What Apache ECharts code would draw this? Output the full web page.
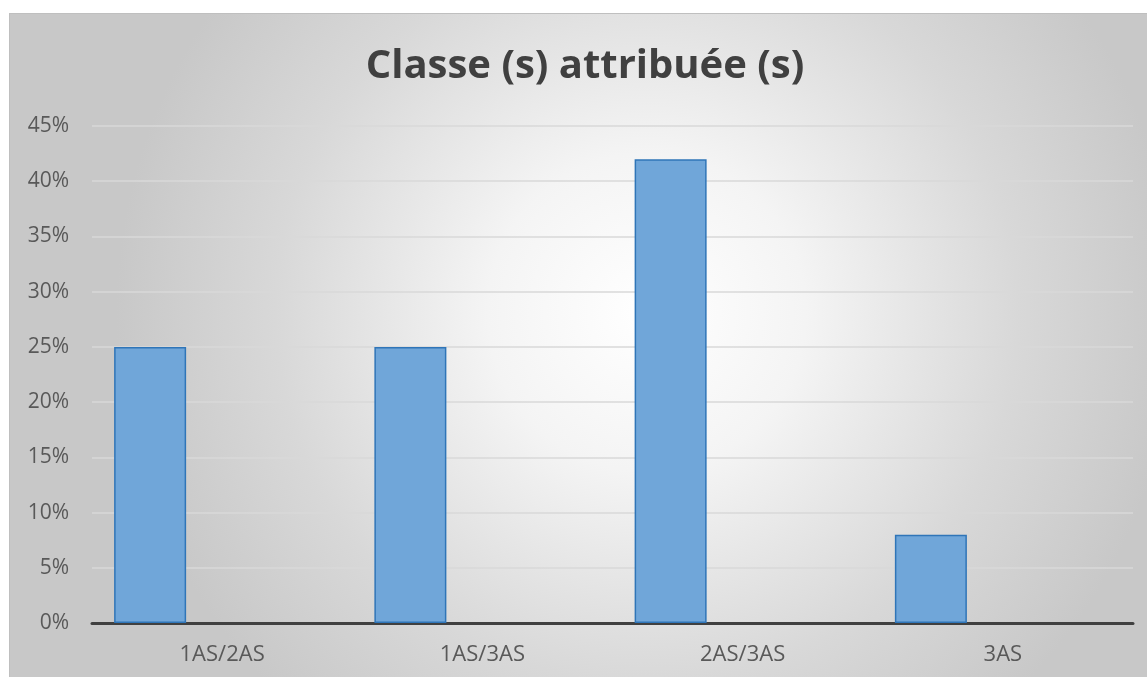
<!DOCTYPE html>
<html>
<head>
<meta charset="utf-8">
<script src="https://cdn.jsdelivr.net/npm/echarts@6/dist/echarts.min.js"></script>
<style>
  html, body { margin: 0; padding: 0; background: #fff; }
  #chart {
    position: absolute; left: 9px; top: 13px; width: 1138px; height: 664px;
    border-left: 1px solid #bfbfbf; border-top: 1px solid #bfbfbf;
    box-sizing: border-box;
  }
</style>
</head>
<body>
<div id="chart"></div>
<script>
const categories = ["1AS/2AS", "1AS/3AS", "2AS/3AS", "3AS"];
const shares = [25, 25, 42, 8];
const emptySeries = [null, null, null, null];
const yTicks = [0, 5, 10, 15, 20, 25, 30, 35, 40, 45];

const chart = echarts.init(document.getElementById("chart"));

const barStyle = {
  color: "#70a6d9",
  borderColor: "#2f75b8",
  borderWidth: 1.5
};

chart.setOption({
  backgroundColor: {
    type: "radial", x: 0.56, y: 0.45, r: 0.8,
    colorStops: [
      { offset: 0, color: "#ffffff" },
      { offset: 0.3, color: "#f4f4f4" },
      { offset: 0.7, color: "#d8d8d8" },
      { offset: 1, color: "#c8c8c8" }
    ]
  },
  title: {
    text: "Classe (s) attribuée (s)",
    left: 570, top: 28, textAlign: "center",
    textStyle: { fontFamily: "Open Sans", fontWeight: "bold", fontSize: 40, color: "#404040" }
  },
  grid: { left: 82, right: 14, top: 112, bottom: 54 },
  xAxis: {
    type: "category",
    data: categories,
    axisLine: { lineStyle: { color: "#404040", width: 3 } },
    axisTick: { show: false },
    axisLabel: { color: "#595959", fontSize: 22, fontFamily: "Open Sans", margin: 21 }
  },
  yAxis: {
    type: "value",
    min: 0, max: yTicks[yTicks.length - 1], interval: 5,
    axisLine: { show: false },
    axisTick: { show: false },
    axisLabel: { color: "#595959", fontSize: 21, fontFamily: "Open Sans", margin: 23, formatter: "{value}%" },
    splitLine: { lineStyle: { color: "#d9d9d9", width: 1.5 } }
  },
  series: [
    { type: "bar", data: shares, barWidth: 72, barGap: "0%", itemStyle: barStyle },
    { type: "bar", data: emptySeries, barWidth: 72, barGap: "0%" },
    { type: "bar", data: emptySeries, barWidth: 72, barGap: "0%" }
  ]
});
</script>
</body>
</html>
